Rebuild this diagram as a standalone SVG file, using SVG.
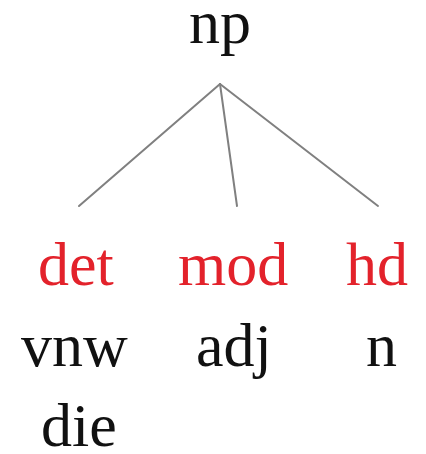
<svg xmlns="http://www.w3.org/2000/svg" width="426" height="454" viewBox="0 0 426 454">
  <style>
    text { font-family: "Liberation Serif", "Times New Roman", serif; font-size: 62px; }
    .cat { fill: #111111; }
    .rel { fill: #e3222b; }
    .edge { stroke: #808080; stroke-width: 2; fill: none; stroke-linecap: round; }
  </style>
  <rect width="426" height="454" fill="#ffffff"/>
  <g id="connectors">
    <line class="edge" x1="220" y1="84" x2="79" y2="206"/>
    <line class="edge" x1="220" y1="84" x2="237" y2="206"/>
    <line class="edge" x1="220" y1="84" x2="378" y2="206"/>
  </g>
  <g id="np">
    <text class="cat" x="189" y="43">np</text>
  </g>
  <g id="det">
    <text class="rel" x="38" y="285">det</text>
    <text class="cat" x="21" y="366">vnw</text>
    <text class="cat" x="41" y="446">die</text>
  </g>
  <g id="mod">
    <text class="rel" x="178" y="285">mod</text>
    <text class="cat" x="196" y="366">adj</text>
  </g>
  <g id="hd">
    <text class="rel" x="346" y="285">hd</text>
    <text class="cat" x="366" y="366">n</text>
  </g>
</svg>
